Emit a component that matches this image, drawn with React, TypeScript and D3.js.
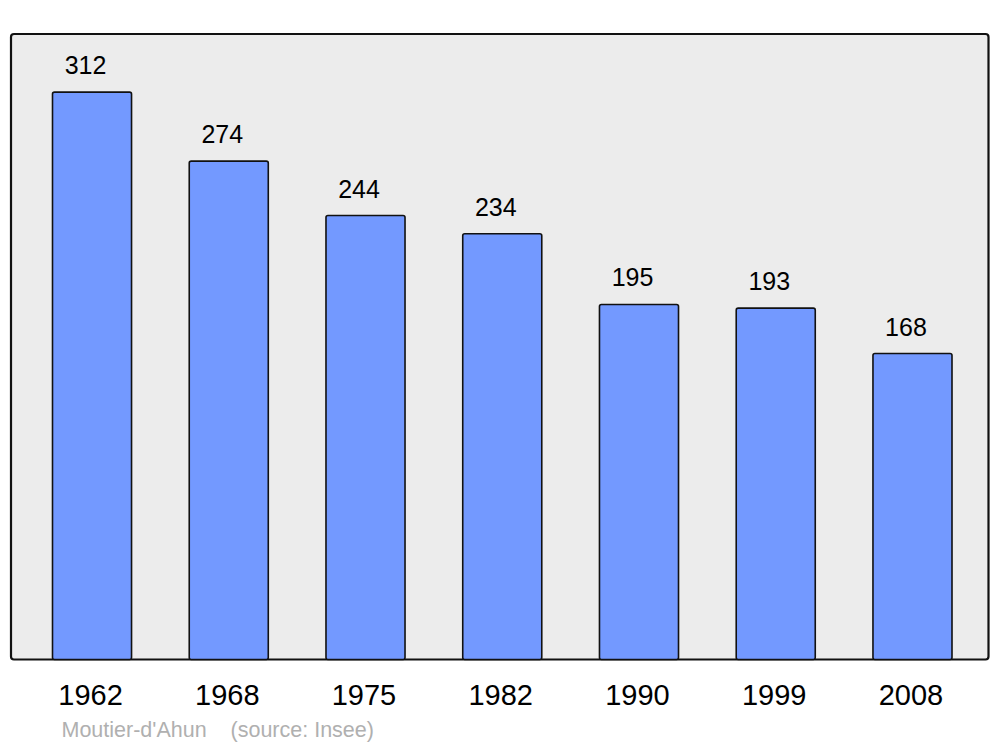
import React from "react";
import * as d3 from "d3";

const years = ["1962", "1968", "1975", "1982", "1990", "1999", "2008"];
const population = [312, 274, 244, 234, 195, 193, 168];
const caption = "Moutier-d'Ahun    (source: Insee)";

export default function App() {
  const W = 1000, H = 747;
  const panel = { x: 11, y: 34, w: 977.5, h: 625.5 };
  const x = d3.scaleBand<string>().domain(years).range([52.5, 952]).paddingInner(0.422).paddingOuter(0);
  const y = d3.scaleLinear().domain([0, 344]).range([658.5, 34]);
  const font = "'Liberation Sans', Arial, sans-serif";
  return (
    <svg width={W} height={H} style={{ position: "absolute", left: 0, top: 0 }}>
      <rect x={0} y={0} width={W} height={H} fill="#ffffff" />
      <rect x={panel.x} y={panel.y} width={panel.w} height={panel.h} rx={3} fill="#ececec" stroke="#111" strokeWidth={2.2} />
      {years.map((yr, i) => {
        const bx = x(yr)!;
        const bw = x.bandwidth();
        const top = y(population[i]);
        const cx = bx + bw / 2;
        return (
          <g key={yr}>
            <rect x={bx} y={top} width={bw} height={y(0) - top + 1} rx={2} fill="#7399ff" stroke="#111" strokeWidth={1.6} />
            <text x={cx - 6.5} y={top - 18} textAnchor="middle" fontFamily={font} fontSize={25} fill="#000">{population[i]}</text>
            <text x={cx - 1.5} y={705} textAnchor="middle" fontFamily={font} fontSize={29} fill="#000">{yr}</text>
          </g>
        );
      })}
      <text x={61.5} y={736.5} fontFamily={font} fontSize={21.5} fill="#b0b0b0" style={{ whiteSpace: "pre" }} xmlSpace="preserve">{caption}</text>
    </svg>
  );
}
